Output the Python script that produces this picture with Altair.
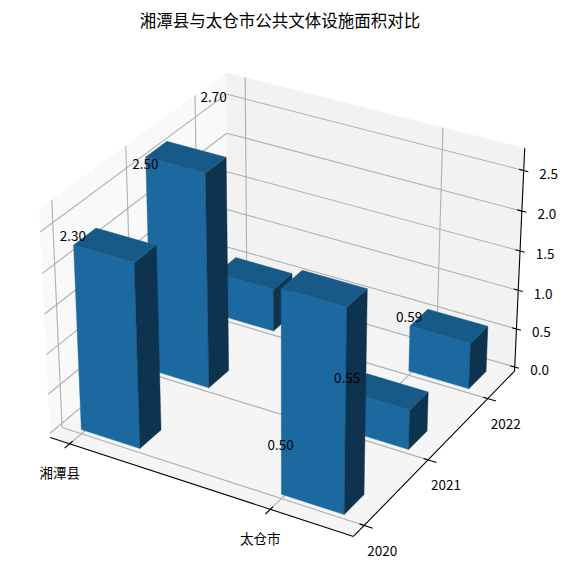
import numpy as np
import pandas as pd
import altair as alt

# ---- values ----
TITLE = "湘潭县与太仓市公共文体设施面积对比"
cities = ["湘潭县", "太仓市"]
years = ["2020", "2021", "2022"]
bar_heights = [[2.3, 2.7, 0.55], [2.5, 0.5, 0.59]]      # heights drawn, per city, per year
label_values = [[2.30, 2.50, 2.70], [0.50, 0.55, 0.59]]  # numbers printed, per city, per year
z_ticks = [0.0, 0.5, 1.0, 1.5, 2.0, 2.5]
BAR_W = 0.3

# ---- 3D view (elevation 30, azimuth -60, box 4:4:3) ----
XLO, XHI, YLO, YHI, ZLO, ZHI = -0.1005, 1.3945, -0.1618, 2.4715, -0.0543, 2.772
S, TX, TY = 2917.61, 286.687, 293.349
FONT = "Noto Sans CJK SC"

_a = np.array([4, 4, 3.0])
_a = _a * 1.8294640721620434 * 25 / 24 / np.linalg.norm(_a)
_el, _az = np.radians(30), np.radians(-60)
_w = np.array([np.cos(_el) * np.cos(_az), np.cos(_el) * np.sin(_az), np.sin(_el)])
_eye = _a / 2 + 10 * _w
_u = np.cross([0, 0, 1], _w)
_u /= np.linalg.norm(_u)
_v = np.cross(_w, _u)


def project(x, y, z):
    p = (np.array([x, y, z], float) - [XLO, YLO, ZLO]) / [XHI - XLO, YHI - YLO, ZHI - ZLO] * _a
    d = p - _eye
    zc = d @ _w
    return float(TX + S * (d @ _u) / -zc), float(TY - S * (d @ _v) / -zc)


sx = alt.Scale(domain=[8, 562], range=[0, 554])
sy = alt.Scale(domain=[573, 48], range=[525, 0])
X = alt.X("sx:Q", scale=sx, axis=None)
Y = alt.Y("sy:Q", scale=sy, axis=None)


def polygon(corners, color):
    rows = [dict(zip(("sx", "sy"), project(*c)), i=k) for k, c in enumerate(corners)]
    return (
        alt.Chart(pd.DataFrame(rows))
        .mark_line(interpolate="linear-closed", fill=color, stroke=color, strokeWidth=0.4)
        .encode(x=X, y=Y, order="i:Q")
    )


def segments(pairs, color, width):
    rows = []
    for a, b in pairs:
        ax_, ay_ = project(*a)
        bx_, by_ = project(*b)
        rows.append({"sx": ax_, "sy": ay_, "ex": bx_, "ey": by_})
    return (
        alt.Chart(pd.DataFrame(rows))
        .mark_rule(color=color, strokeWidth=width)
        .encode(x=X, y=Y, x2="ex:Q", y2="ey:Q")
    )


def texts(rows, size):
    return (
        alt.Chart(pd.DataFrame(rows))
        .mark_text(font=FONT, fontSize=size, color="#000000", align="center", baseline="middle", dy=1.5)
        .encode(x=X, y=Y, text="t:N")
    )


layers = [
    polygon([(XLO, YLO, ZLO), (XLO, YHI, ZLO), (XLO, YHI, ZHI), (XLO, YLO, ZHI)], "#f9f9f9"),
    polygon([(XLO, YHI, ZLO), (XHI, YHI, ZLO), (XHI, YHI, ZHI), (XLO, YHI, ZHI)], "#f2f2f2"),
    polygon([(XLO, YLO, ZLO), (XHI, YLO, ZLO), (XHI, YHI, ZLO), (XLO, YHI, ZLO)], "#f5f5f5"),
]

# grid
grid = []
for i in range(len(cities)):
    grid += [((i, YLO, ZLO), (i, YHI, ZLO)), ((i, YHI, ZLO), (i, YHI, ZHI))]
for j in range(len(years)):
    grid += [((XHI, j, ZLO), (XLO, j, ZLO)), ((XLO, j, ZLO), (XLO, j, ZHI))]
for z in z_ticks:
    grid += [((XLO, YLO, z), (XLO, YHI, z)), ((XLO, YHI, z), (XHI, YHI, z))]
layers.append(segments(grid, "#b0b0b0", 1.1))

# axis lines and ticks
ax_lines = [
    ((XLO, YLO, ZLO), (XHI, YLO, ZLO)),
    ((XHI, YLO, ZLO), (XHI, YHI, ZLO)),
    ((XHI, YHI, ZLO), (XHI, YHI, ZHI)),
]
for i in range(len(cities)):
    ax_lines.append(((i, YLO - 0.07, ZLO), (i, YLO + 0.04, ZLO)))
for j in range(len(years)):
    ax_lines.append(((XHI + 0.04, j, ZLO), (XHI - 0.022, j, ZLO)))
for z in z_ticks:
    ax_lines.append(((XHI + 0.022, YHI, z), (XHI - 0.022, YHI, z)))
layers.append(segments(ax_lines, "#000000", 1.1))

# tick labels
tick_rows = []
for i, c in enumerate(cities):
    a, b = project(i, YLO, ZLO)
    tick_rows.append({"sx": a - 10, "sy": b + 29, "t": c})
for j, yr in enumerate(years):
    a, b = project(XHI, j, ZLO)
    tick_rows.append({"sx": a + 18, "sy": b + 25, "t": yr})
for z in z_ticks:
    a, b = project(XHI, YHI, z)
    tick_rows.append({"sx": a + 25, "sy": b + 2.8, "t": f"{z:.1f}"})
layers.append(texts(tick_rows, 13.5))

# bars, far to near
cells = [(i, j) for i in range(len(cities)) for j in range(len(years))]
cells.sort(key=lambda c: (np.array([c[0], c[1], 0]) @ np.array([_w[0], _w[1], 0]) * 1.0))
FRONT, TOP, SIDE = "#1b69a0", "#175a88", "#0d334f"
for i, j in cells:
    h, w = bar_heights[i][j], BAR_W
    layers.append(polygon([(i, j, 0), (i + w, j, 0), (i + w, j, h), (i, j, h)], FRONT))
    layers.append(polygon([(i + w, j, 0), (i + w, j + w, 0), (i + w, j + w, h), (i + w, j, h)], SIDE))
    layers.append(polygon([(i, j, h), (i + w, j, h), (i + w, j + w, h), (i, j + w, h)], TOP))

# value labels
val_rows = []
for i, j in cells:
    a, b = project(i, j, label_values[i][j])
    val_rows.append({"sx": a - 0.7, "sy": b - 10, "t": f"{label_values[i][j]:.2f}"})
layers.append(texts(val_rows, 13.5))

chart = (
    alt.layer(*layers)
    .properties(
        width=554,
        height=525,
        padding={"left": 0, "top": 40, "right": 0, "bottom": 0},
        autosize=alt.AutoSizeParams(type="none"),
        title=alt.TitleParams(TITLE, font=FONT, fontSize=16.5, fontWeight="normal", color="#000000",
                              anchor="middle", dx=-5, offset=18),
    )
    .configure_view(stroke=None)
)
chart.save("out.html", embed_options={"renderer": "svg", "actions": False})
